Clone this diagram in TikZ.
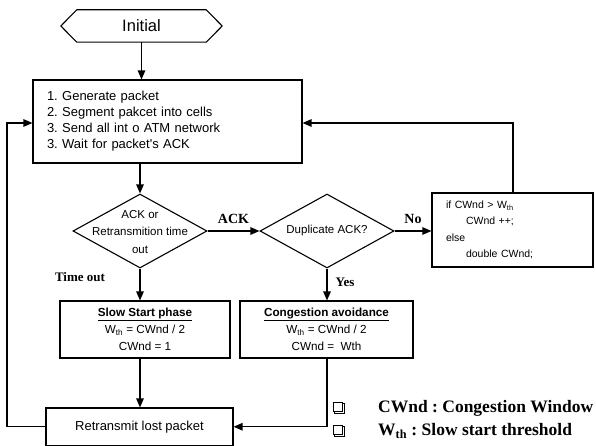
\documentclass[tikz,border=0pt]{standalone}
\usepackage{fontspec}
\setmainfont{Liberation Serif}
\newfontfamily\arialf{Liberation Sans}
\usetikzlibrary{arrows.meta,shapes.geometric}
\frenchspacing
\begin{document}
\begin{tikzpicture}[x=1pt,y=-1pt,
  every node/.style={font=\arialf},
  box/.style={draw,line width=1.1pt,rectangle,inner sep=0pt},
  dia/.style={draw,line width=1.1pt,diamond,inner sep=0pt,minimum width=134pt,minimum height=74pt},
  conn/.style={line width=1.2pt},
  arr/.style={conn,-{Triangle[length=9pt,width=7.5pt]}},
  lab/.style={font=\bfseries\fontsize{14}{16}\selectfont,inner sep=0pt},
  leg/.style={font=\bfseries\fontsize{17.5}{20}\selectfont,inner sep=0pt,anchor=west},
  sq/.style={draw,line width=0.9pt,minimum size=9.5pt,inner sep=0pt},
  dtext/.style={font=\arialf\fontsize{11.5}{17.5}\selectfont,align=center,inner sep=0pt}]
\useasboundingbox (0,0) rectangle (596,446);

% Initial
\node[minimum width=161pt,minimum height=32pt,inner sep=0pt,font=\arialf\fontsize{16.5}{19}\selectfont] (init) at (141.5,26) {Initial};
\draw[line width=1.1pt] (init.west) -- ([xshift=16pt]init.north west) -- ([xshift=-16pt]init.north east) -- (init.east) -- ([xshift=-16pt]init.south east) -- ([xshift=16pt]init.south west) -- cycle;

% main box
\node[box,text width=241pt,minimum height=83pt,inner xsep=14pt,align=left,font=\arialf\fontsize{13}{16}\selectfont] (gen) at (167.5,121.5) {1. Generate packet\\2. Segment pakcet into cells\\3. Send all int o ATM network\\3. Wait for packet's ACK};

% diamonds
\node[dia] (d1) at (140,231) {};
\node[dtext] (d1t) at (140,232) {ACK or\\Retransmition time\\out};
\node[dia] (d2) at (327,231) {};
\node[dtext] (d2t) at (327,231) {Duplicate ACK?};

% update box
\node[box,text width=133pt,minimum height=74pt,inner xsep=14pt,align=left,font=\arialf\fontsize{10.5}{16.5}\selectfont] (upd) at (512.5,230) {if CWnd > W\textsubscript{th}\\\hspace*{20pt}CWnd ++;\\else\\\hspace*{20pt}double CWnd;};

% phase boxes
\node[box,minimum width=170pt,minimum height=57pt,align=center,font=\arialf\fontsize{11.7}{17}\selectfont] (ss) at (145,329.5) {\textbf{\underline{Slow Start phase}}\\W\textsubscript{th} = CWnd / 2\\CWnd = 1};
\node[box,minimum width=173pt,minimum height=57pt,align=center,font=\arialf\fontsize{11.7}{17}\selectfont] (ca) at (326.5,329.5) {\textbf{\underline{Congestion avoidance}}\\W\textsubscript{th} = CWnd / 2\\CWnd =\ \ Wth};

% retransmit
\node[box,minimum width=187pt,minimum height=37.5pt,font=\arialf\fontsize{13}{16}\selectfont] (rt) at (139.5,426.75) {Retransmit lost packet};

% connectors
\draw[arr] (init.south) -- (init.south |- gen.north);
\draw[arr] (gen.south -| d1.north) -- (d1.north);
\draw[arr] (d1.east) -- node[lab,above=7pt] (lack) {ACK} (d2.west);
\draw[arr] (d2.east) -- node[lab,above=7pt] (lno) {No} (d2.east -| upd.west);
\draw[arr] (d1.south) -- (d1.south |- ss.north);
\node[lab,font=\bfseries\fontsize{13}{15}\selectfont] (lto) at (80,277) {Time out};
\draw[arr] (d2.south) -- (d2.south |- ca.north);
\node[lab,font=\bfseries\fontsize{13}{15}\selectfont] (lyes) at (345,282) {Yes};
\draw[arr] (ss.south -| d1.south) -- (rt.north -| d1.south);
\draw[arr] (ca.south -| d2.south) |- (rt.east);
\coordinate (lc) at (7,123);
\draw[arr] (rt.west) -| (lc) -- (lc -| gen.west);
\coordinate (rc) at (513,123);
\draw[arr] (upd.north -| rc) -- (rc) -- (rc -| gen.east);

% legend
\node[sq] (sq1) at (338,407) {};
\draw[line width=1.1pt] ([xshift=1.6pt]sq1.south west) -- ([xshift=1.6pt,yshift=-1.6pt]sq1.south west) -- ([xshift=1.6pt,yshift=-1.6pt]sq1.south east) -- ([xshift=1.6pt,yshift=-1.6pt]sq1.north east) -- ([yshift=-1.6pt]sq1.north east);
\node[leg] (l1) at (378,408) {CWnd : Congestion Window};
\node[sq] (sq2) at (338,430) {};
\draw[line width=1.1pt] ([xshift=1.6pt]sq2.south west) -- ([xshift=1.6pt,yshift=-1.6pt]sq2.south west) -- ([xshift=1.6pt,yshift=-1.6pt]sq2.south east) -- ([xshift=1.6pt,yshift=-1.6pt]sq2.north east) -- ([yshift=-1.6pt]sq2.north east);
\node[leg] (l2) at (378,431) {W\textsubscript{th} : Slow start threshold};
\end{tikzpicture}
\end{document}
